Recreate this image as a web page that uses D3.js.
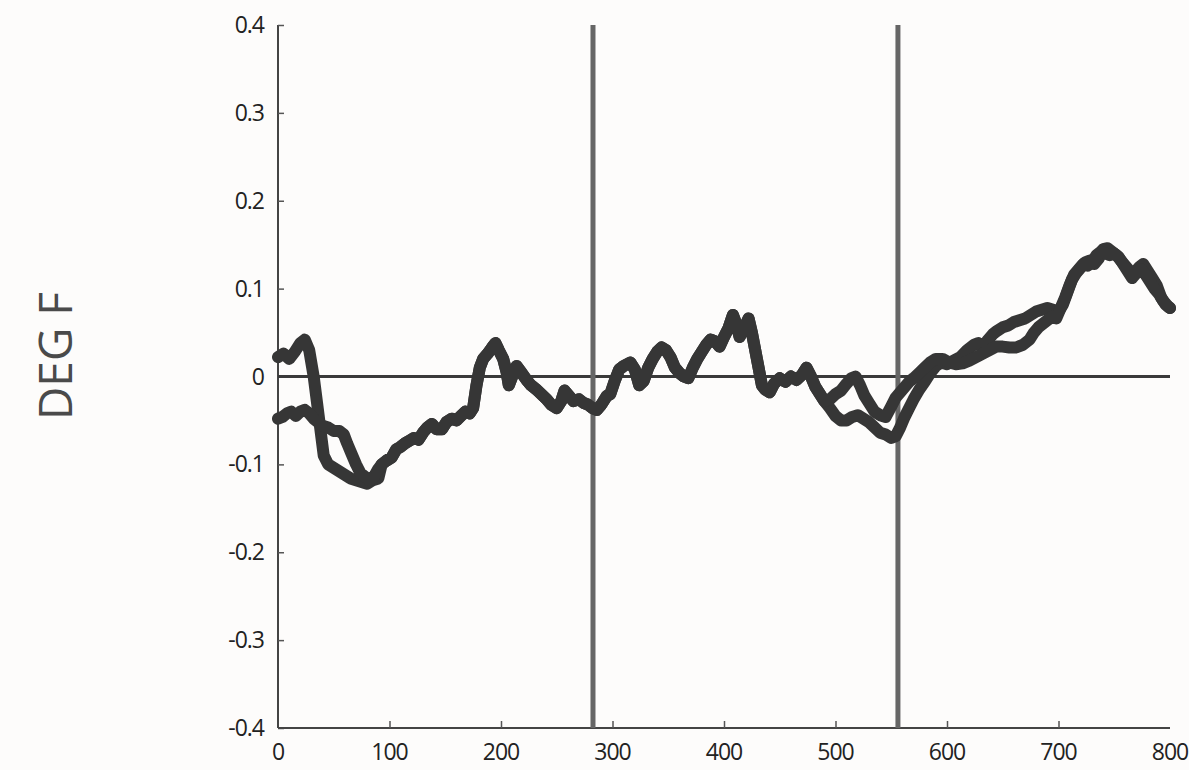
<!DOCTYPE html>
<html>
<head>
<meta charset="utf-8">
<script src="https://cdn.jsdelivr.net/npm/d3@7"></script>
<style>
  html, body { margin: 0; padding: 0; background: #fdfcfb; }
  svg { display: block; }
</style>
</head>
<body>
<svg id="chart" width="1189" height="770"></svg>
<script>
// ---- data ----
const xTicks = [0, 100, 200, 300, 400, 500, 600, 700, 800];
const yTicks = [0.4, 0.3, 0.2, 0.1, 0, -0.1, -0.2, -0.3, -0.4];
const yTickLabels = ["0.4", "0.3", "0.2", "0.1", "0", "-0.1", "-0.2", "-0.3", "-0.4"];
const markers = [282.5, 556];
const yTitle = "DEG F";

// series A (starts above zero)
const startA_x = [0, 5, 10, 15, 20, 24, 28, 32, 35, 38, 41, 45, 50, 55, 60, 65, 70, 75, 80, 85, 90];
const startA_y = [0.022, 0.026, 0.02, 0.028, 0.038, 0.042, 0.03, 0.0, -0.03, -0.06, -0.09, -0.1, -0.104, -0.108, -0.112, -0.116, -0.118, -0.12, -0.122, -0.118, -0.116];
// series B (starts below zero)
const startB_x = [0, 4, 8, 12, 16, 20, 24, 28, 32, 36, 40, 45, 50, 55, 59, 62, 66, 70, 74, 78, 82, 86, 90];
const startB_y = [-0.048, -0.046, -0.042, -0.04, -0.045, -0.04, -0.038, -0.042, -0.048, -0.052, -0.056, -0.058, -0.062, -0.062, -0.066, -0.076, -0.088, -0.1, -0.11, -0.114, -0.118, -0.114, -0.105];
// common stretch (both series overlap)
const common_x = [93, 97, 102, 106, 110, 114, 118, 122, 126, 130, 134, 138, 142, 147, 151, 156, 160, 164, 168, 172, 175, 178, 181, 184, 188, 192, 195, 198, 202, 205, 207, 210, 214, 218, 223, 227, 232, 236, 241, 245, 250, 254, 257, 261, 265, 270, 274, 278, 282, 286, 290, 295, 298, 302, 306, 310, 316, 320, 324, 328, 332, 336, 340, 344, 348, 352, 356, 360, 364, 368, 372, 376, 380, 384, 388, 392, 396, 400, 404, 408, 411, 414, 418, 422, 425, 428, 431, 434, 437, 441, 445, 450, 455, 460, 465, 470, 474, 478, 482, 486, 490];
const common_y = [-0.1, -0.096, -0.092, -0.083, -0.08, -0.076, -0.073, -0.07, -0.072, -0.064, -0.058, -0.054, -0.06, -0.06, -0.052, -0.048, -0.05, -0.045, -0.04, -0.042, -0.036, -0.01, 0.01, 0.02, 0.026, 0.033, 0.038, 0.03, 0.02, 0.005, -0.01, 0.0, 0.012, 0.005, -0.004, -0.01, -0.015, -0.02, -0.026, -0.032, -0.036, -0.028, -0.016, -0.022, -0.028, -0.026, -0.03, -0.032, -0.036, -0.038, -0.032, -0.022, -0.02, -0.005, 0.008, 0.012, 0.016, 0.008, -0.01, -0.005, 0.01, 0.02, 0.028, 0.033, 0.03, 0.022, 0.01, 0.004, 0.0, -0.002, 0.01, 0.02, 0.028, 0.036, 0.042, 0.04, 0.034, 0.045, 0.055, 0.07, 0.06, 0.045, 0.055, 0.066, 0.05, 0.03, 0.01, -0.01, -0.015, -0.018, -0.008, -0.002, -0.006, 0.0, -0.004, 0.002, 0.01, 0.0, -0.012, -0.02, -0.028];
// ends
const endA_x = [495, 500, 505, 510, 515, 520, 525, 530, 535, 540, 545, 550, 554, 558, 562, 566, 570, 575, 580, 585, 590, 595, 600, 606, 612, 618, 624, 628, 632, 637, 641, 645, 650, 655, 660, 665, 670, 675, 680, 685, 690, 695, 700, 704, 708, 712, 716, 720, 724, 728, 732, 736, 740, 744, 748, 752, 756, 760, 764, 768, 772, 776, 780, 784, 788, 792, 796, 800];
const endA_y = [-0.036, -0.045, -0.05, -0.05, -0.046, -0.044, -0.048, -0.052, -0.058, -0.064, -0.066, -0.07, -0.068, -0.058, -0.046, -0.036, -0.026, -0.015, -0.006, 0.004, 0.012, 0.016, 0.014, 0.018, 0.022, 0.03, 0.036, 0.038, 0.034, 0.042, 0.048, 0.052, 0.056, 0.058, 0.062, 0.064, 0.066, 0.07, 0.074, 0.076, 0.078, 0.076, 0.074, 0.082, 0.096, 0.11, 0.118, 0.124, 0.13, 0.132, 0.128, 0.134, 0.145, 0.146, 0.142, 0.138, 0.132, 0.126, 0.12, 0.118, 0.124, 0.128, 0.12, 0.112, 0.104, 0.09, 0.082, 0.078];
const endB_x = [495, 500, 505, 510, 514, 518, 522, 526, 530, 535, 540, 545, 550, 554, 558, 562, 566, 570, 575, 580, 585, 590, 596, 602, 608, 614, 620, 626, 632, 638, 644, 650, 656, 662, 668, 674, 678, 682, 686, 690, 694, 698, 702, 706, 710, 714, 718, 722, 726, 730, 734, 738, 742, 746, 750, 754, 758, 762, 766, 770, 774, 778, 782, 786, 790, 794, 798, 800];
const endB_y = [-0.026, -0.02, -0.016, -0.008, -0.002, 0.0, -0.01, -0.022, -0.03, -0.04, -0.044, -0.046, -0.034, -0.024, -0.018, -0.012, -0.006, -0.002, 0.004, 0.01, 0.016, 0.02, 0.02, 0.016, 0.014, 0.015, 0.018, 0.022, 0.026, 0.03, 0.034, 0.034, 0.033, 0.033, 0.036, 0.042, 0.05, 0.056, 0.06, 0.064, 0.068, 0.066, 0.078, 0.09, 0.104, 0.116, 0.122, 0.128, 0.126, 0.13, 0.138, 0.142, 0.14, 0.138, 0.14, 0.136, 0.128, 0.12, 0.112, 0.118, 0.122, 0.116, 0.108, 0.1, 0.094, 0.086, 0.08, 0.078];

function zip(xv, yv) { return xv.map((v, i) => ({ x: v, y: yv[i] })); }
const seriesA = [].concat(zip(startA_x, startA_y), zip(common_x, common_y), zip(endA_x, endA_y));
const seriesB = [].concat(zip(startB_x, startB_y), zip(common_x, common_y), zip(endB_x, endB_y));

// ---- drawing ----
const svg = d3.select("#chart");
const pLeft = 278, pRight = 1170, pTop = 25, pBottom = 728;
const xs = d3.scaleLinear().domain([0, 800]).range([pLeft, pRight]);
const ys = d3.scaleLinear().domain([-0.4, 0.4]).range([pBottom, pTop]);

svg.append("rect").attr("width", 1189).attr("height", 770).attr("fill", "#fdfcfb");

// y axis (ticks inward)
const yAxis = d3.axisRight(ys).tickValues(yTicks).tickSize(6).tickFormat("");
const gy = svg.append("g").attr("transform", `translate(${pLeft},0)`).call(yAxis);
gy.select(".domain").attr("stroke", "#444").attr("stroke-width", 2).attr("d", `M0,${pTop}V${pBottom}`);
gy.selectAll(".tick line").attr("stroke", "#555").attr("stroke-width", 1.5);

svg.append("g").selectAll("text").data(yTicks).join("text")
  .attr("x", pLeft - 14).attr("y", d => ys(d))
  .attr("dy", "0.35em").attr("text-anchor", "end")
  .attr("font-family", "'Open Sans', sans-serif").attr("font-size", 23)
  .attr("letter-spacing", "-1px").attr("fill", "#222")
  .text((d, i) => yTickLabels[i]);

// x axis (ticks inward)
const xAxis = d3.axisTop(xs).tickValues(xTicks).tickSize(7).tickFormat("");
const gx = svg.append("g").attr("transform", `translate(0,${pBottom})`).call(xAxis);
gx.select(".domain").attr("stroke", "#444").attr("stroke-width", 2).attr("d", `M${pLeft},0H${pRight}`);
gx.selectAll(".tick line").attr("stroke", "#555").attr("stroke-width", 1.5);
gx.selectAll(".tick").filter(d => d === 0 || d === 800).select("line").remove();

svg.append("g").selectAll("text").data(xTicks).join("text")
  .attr("x", d => xs(d)).attr("y", pBottom + 32)
  .attr("text-anchor", "middle")
  .attr("font-family", "'Open Sans', sans-serif").attr("font-size", 23)
  .attr("letter-spacing", "-1px").attr("fill", "#222")
  .text(d => String(d));

// zero line
svg.append("line")
  .attr("x1", xs(0)).attr("x2", xs(800)).attr("y1", ys(0)).attr("y2", ys(0))
  .attr("stroke", "#3a3a3a").attr("stroke-width", 3);

// vertical marker lines
svg.append("g").selectAll("line").data(markers).join("line")
  .attr("x1", d => xs(d)).attr("x2", d => xs(d))
  .attr("y1", ys(0.4)).attr("y2", ys(-0.4))
  .attr("stroke", "#666").attr("stroke-width", 5);

// data lines
const line = d3.line().x(d => xs(d.x)).y(d => ys(d.y)).curve(d3.curveLinear);
[seriesA, seriesB].forEach(s => {
  svg.append("path").datum(s).attr("d", line)
    .attr("fill", "none").attr("stroke", "#363636").attr("stroke-width", 12)
    .attr("stroke-linejoin", "round").attr("stroke-linecap", "round");
});

// y title
svg.append("text")
  .attr("transform", `translate(72,356) rotate(-90)`)
  .attr("text-anchor", "middle")
  .attr("font-family", "'Open Sans', sans-serif").attr("font-size", 46)
  .attr("fill", "#4a4a4a")
  .text(yTitle);
</script>
</body>
</html>
